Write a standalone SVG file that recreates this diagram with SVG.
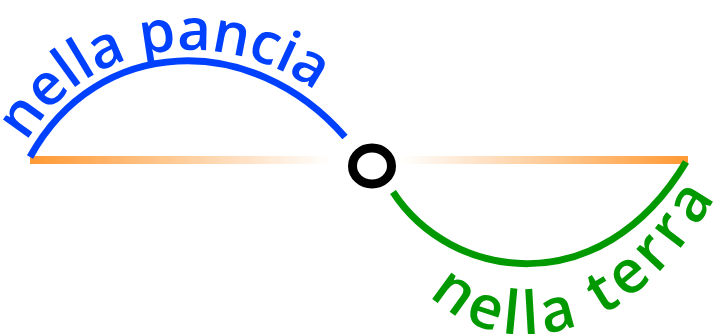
<svg xmlns="http://www.w3.org/2000/svg" width="714" height="334" viewBox="0 0 714 334">
<style>
.lbl{font-family:"Open Sans","Noto Sans",sans-serif;font-weight:600}
.blue{fill:#0040ff;font-size:58px;letter-spacing:-0.5px}
.green{fill:#009900;font-size:60px;letter-spacing:5px}
</style>
<defs>
<linearGradient id="gl" x1="30" y1="0" x2="330" y2="0" gradientUnits="userSpaceOnUse">
<stop offset="0" stop-color="#ff9933"/><stop offset="1" stop-color="#ff9933" stop-opacity="0"/>
</linearGradient>
<linearGradient id="gr" x1="400" y1="0" x2="688" y2="0" gradientUnits="userSpaceOnUse">
<stop offset="0" stop-color="#ff9933" stop-opacity="0"/><stop offset="1" stop-color="#ff9933"/>
</linearGradient>
<path id="tpBlue" d="M 22,150 C 88,24 258,18 355,126"/>
<path id="tpGreen" d="M 415,278 C 480,368 640,368 740,150"/>
</defs>
<g id="axis">
<rect x="30" y="156" width="300" height="8" fill="url(#gl)"/>
<rect x="400" y="156" width="288" height="8" fill="url(#gr)"/>
</g>
<g id="connectors" fill="none" stroke-width="7">
<path id="curveBlue" d="M 30,157 C 97,35 252,30 345,137" stroke="#0040ff"/>
<path id="curveGreen" d="M 393,192 C 450,280 600,305 686,162" stroke="#009900"/>
</g>
<g id="origin">
<ellipse cx="372" cy="166" rx="19.5" ry="18" fill="none" stroke="#000" stroke-width="9"/>
</g>
<g id="labelTop">
<text class="lbl blue"><textPath href="#tpBlue" startOffset="9">nella pancia</textPath></text>
</g>
<g id="labelBottom">
<text class="lbl green"><textPath href="#tpGreen" startOffset="22">nella terra</textPath></text>
</g>
</svg>
